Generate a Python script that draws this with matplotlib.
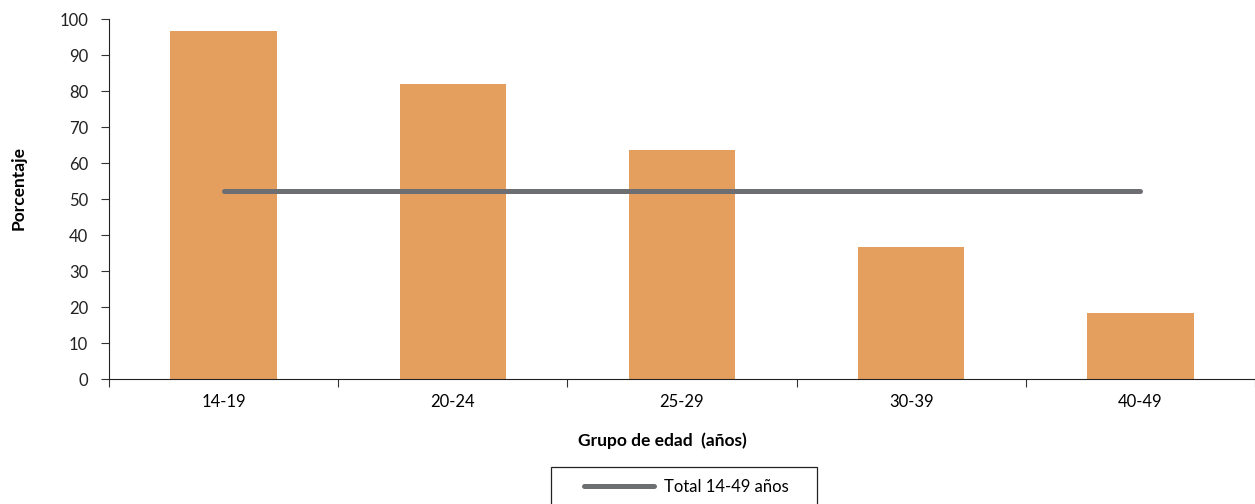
import numpy as np
import matplotlib.pyplot as plt
from matplotlib.patches import Rectangle

# %% DATA
grupos = ['14-19', '20-24', '25-29', '30-39', '40-49']
porcentaje = [96.7, 81.9, 63.5, 36.6, 18.3]
total = [52.2, 52.2, 52.2, 52.2, 52.2]
etiqueta_total = 'Total 14-49 años'

# %% PLOT
plt.rcParams['font.family'] = ['Lato', 'DejaVu Sans']

W, H = 1255, 504
fig = plt.figure(figsize=(W / 100, H / 100), dpi=100)
ax = fig.add_axes([109 / W, (H - 379) / H, 1 - 109 / W, 360 / H])

x = np.arange(len(grupos))
ax.bar(x, porcentaje, width=0.465, color='#E49E5E', zorder=2)
ax.plot(x, total, color='#6D6E71', linewidth=3.6, solid_capstyle='round',
        zorder=3, label=etiqueta_total)

ax.set_ylim(0, 100)
ax.set_yticks(np.arange(0, 101, 10))
ax.set_xlim(-0.5, 4.47)
ax.set_xticks(np.arange(-0.5, 4.6, 1.0))
ax.set_xticklabels([])
ax.set_xticks(x, minor=True)
ax.set_xticklabels(grupos, minor=True)
ax.tick_params(axis='x', which='minor', length=0, pad=11, labelsize=12)
ax.tick_params(axis='x', which='major', length=6, direction='out', color='#333333')
ax.tick_params(axis='y', length=6, direction='out', labelsize=12, pad=9,
               color='#333333', labelcolor='#222222')

for s in ['top', 'right']:
    ax.spines[s].set_visible(False)
ax.spines['left'].set_color('#222222')
ax.spines['bottom'].set_color('#222222')

ax.set_ylabel('Porcentaje', fontsize=12.5, fontweight='bold')
ax.yaxis.set_label_coords((27 - 109) / 1146, (379 - 188.5) / 360)
ax.set_xlabel('Grupo de edad  (años)', fontsize=12.5, fontweight='bold')
ax.xaxis.set_label_coords((662 - 109) / 1146, (379 - 432) / 360)

leg = fig.legend(loc='center left', bbox_to_anchor=(584 / W, 1 - 487 / H), fontsize=12,
                 frameon=False, handlelength=4.2, handletextpad=0.6,
                 borderpad=0, borderaxespad=0)
fig.patches.append(Rectangle((551 / W, -0.05), 266 / W, (H - 467) / H + 0.05,
                             transform=fig.transFigure, fill=False,
                             edgecolor='#222222', linewidth=0.9))

fig.savefig('out.png', dpi=100)
